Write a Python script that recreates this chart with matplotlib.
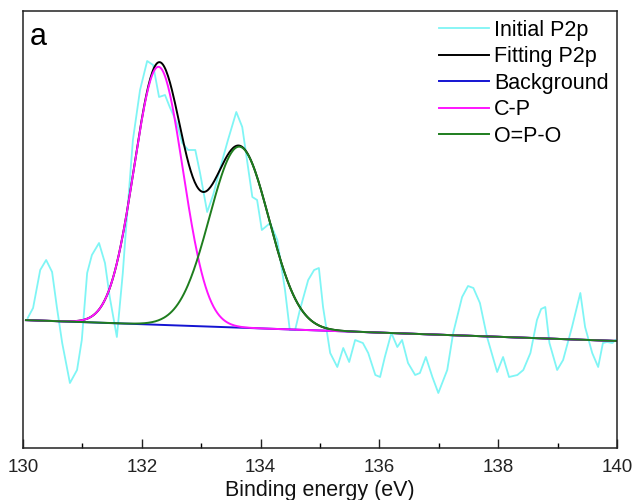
import numpy as np
import matplotlib
matplotlib.use("Agg")
import matplotlib.pyplot as plt
from matplotlib.ticker import MultipleLocator

plt.rcParams['font.family'] = ['Liberation Sans', 'DejaVu Sans']

# Measured P2p spectrum (binding energy in eV, intensity in a.u.)
energy = [130.08, 130.17, 130.29, 130.39, 130.49, 130.57, 130.66, 130.79, 130.91, 130.99,
          131.08, 131.16, 131.28, 131.38, 131.46, 131.58, 131.68, 131.72, 131.85, 131.97,
          132.09, 132.19, 132.29, 132.39, 132.47, 132.59, 132.68, 132.78, 132.90, 132.98,
          133.10, 133.20, 133.37, 133.45, 133.59, 133.69, 133.77, 133.86, 133.94, 134.02,
          134.16, 134.28, 134.41, 134.49, 134.58, 134.66, 134.80, 134.90, 134.98, 135.05,
          135.17, 135.29, 135.39, 135.49, 135.59, 135.72, 135.81, 135.93, 136.01, 136.09,
          136.20, 136.30, 136.38, 136.48, 136.60, 136.68, 136.78, 136.89, 136.99, 137.14,
          137.24, 137.39, 137.49, 137.58, 137.69, 137.81, 137.98, 138.08, 138.18, 138.32,
          138.42, 138.54, 138.65, 138.72, 138.79, 138.86, 138.99, 139.09, 139.24, 139.38,
          139.46, 139.58, 139.68, 139.76, 139.83, 139.92, 139.97]
intensity = [130, 140, 178, 188, 176, 141, 105, 65, 78, 108,
             175, 193, 205, 185, 151, 111, 175, 208, 308, 358,
             387, 383, 351, 353, 341, 325, 305, 298, 298, 275,
             236, 253, 291, 308, 336, 321, 288, 251, 248, 218,
             225, 208, 158, 118, 118, 138, 168, 178, 180, 141,
             95, 81, 100, 86, 108, 105, 95, 73, 71, 91,
             115, 101, 108, 85, 73, 75, 91, 71, 55, 78,
             115, 151, 162, 160, 145, 111, 76, 91, 71, 73,
             78, 95, 128, 139, 141, 105, 78, 88, 121, 155,
             121, 95, 81, 105, 106, 105, 108]

# Fit parameters: linear background and two Gaussian components
background_ends = [128.0, 107.0]        # intensity at 130 eV and 140 eV
cp_center, cp_height, cp_sigma = 132.28, 258.0, 0.41
opo_center, opo_height, opo_sigma = 133.64, 181.0, 0.50

x_lim = [130, 140]
x_fit = np.linspace(x_lim[0] + 0.05, x_lim[1], 600)
bg = np.interp(x_fit, x_lim, background_ends)
cp = cp_height * np.exp(-(x_fit - cp_center) ** 2 / (2 * cp_sigma ** 2))
opo = opo_height * np.exp(-(x_fit - opo_center) ** 2 / (2 * opo_sigma ** 2))

fig = plt.figure(figsize=(6.33, 5.0), dpi=100)
ax = fig.add_axes([0.0363, 0.104, 0.9387, 0.874])

ax.plot(energy, intensity, color='#7FF5F5', lw=1.3, label='Initial P2p')
ax.plot(x_fit, bg + cp + opo, color='black', lw=1.4, label='Fitting P2p')
ax.plot(x_fit, bg, color='#1414D2', lw=1.4, label='Background')
ax.plot(x_fit, bg + cp, color='#FF14FF', lw=1.4, label='C-P')
ax.plot(x_fit, bg + opo, color='#1E7D1E', lw=1.4, label='O=P-O')

ax.set_xlim(x_lim)
ax.set_ylim(0, 437)
ax.xaxis.set_major_locator(MultipleLocator(2))
ax.xaxis.set_minor_locator(MultipleLocator(1))
ax.tick_params(axis='x', which='major', direction='in', length=6.5, width=1.0,
               labelsize=13.5, pad=8, colors='#222222')
ax.tick_params(axis='x', which='minor', direction='in', length=3.6, width=1.0)
ax.set_yticks([])
for s in ax.spines.values():
    s.set_linewidth(1.1)
    s.set_color('#222222')

ax.set_xlabel('Binding energy (eV)', fontsize=15.5, labelpad=3, color='#111111')
ax.text(0.012, 0.94, 'a', transform=ax.transAxes, fontsize=22, va='center', ha='left')

leg = ax.legend(loc='upper right', bbox_to_anchor=(1.0, 1.0), frameon=False,
                fontsize=15.5, handlelength=2.3, handletextpad=0.25,
                labelspacing=0.26, borderaxespad=0.25, borderpad=0.15)

fig.savefig('out.png', dpi=100)
